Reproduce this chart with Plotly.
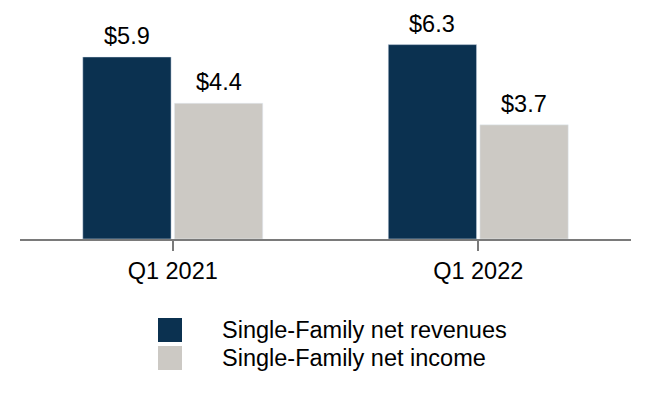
import plotly.graph_objects as go

categories = ["Q1 2021", "Q1 2022"]
series_names = ["Single-Family net revenues", "Single-Family net income"]
net_revenues = [5.9, 6.3]
net_income = [4.4, 3.7]
colors = ["#0b3150", "#ccc9c4"]

FONT = "Arial, Liberation Sans, sans-serif"
FS = 23.5

# the browser's default body margin offsets the figure by 8px
OFF = 8
W, H = 650 - OFF, 400 - OFF
left, right = 20 - OFF, 631 - OFF
top, bottom = 23 - OFF, 239 - OFF
plot_w = right - left
plot_h = bottom - top

def px_x(px):
    return (px - OFF - left) / plot_w

def px_y(py):
    return (bottom - (py - OFF)) / plot_h

fig = go.Figure()
for name, vals, col in zip(series_names, [net_revenues, net_income], colors):
    fig.add_trace(go.Bar(
        x=categories, y=vals, name=name, marker_color=col,
        showlegend=False,
    ))

annotations = []
for vals, shift in zip([net_revenues, net_income], [-46, 46]):
    for c, v in zip(categories, vals):
        annotations.append(dict(x=c, y=v, xref="x", yref="y", text=f"${v:.1f}",
                                showarrow=False, yanchor="bottom", yshift=6, xshift=shift,
                                font=dict(size=FS, color="#000000", family=FONT)))

# manual legend
shapes = []
for i, (name, col) in enumerate(zip(series_names, colors)):
    y0 = 318 + i * 28
    shapes.append(dict(type="rect", xref="paper", yref="paper",
                       x0=px_x(158), x1=px_x(182),
                       y0=px_y(y0 + 24), y1=px_y(y0), fillcolor=col, line_width=0))
    annotations.append(dict(xref="paper", yref="paper", x=px_x(220), y=px_y(y0 + 12),
                            text=name, showarrow=False, xanchor="left", yanchor="middle",
                            font=dict(size=FS, color="#000000", family=FONT)))

fig.update_layout(
    width=W, height=H,
    margin=dict(l=left, r=W - right, t=top, b=H - bottom, autoexpand=False),
    barmode="group", bargap=0.40, bargroupgap=0.036,
    plot_bgcolor="white", paper_bgcolor="white",
    font=dict(family=FONT, size=FS, color="#000000"),
    showlegend=False,
    shapes=shapes, annotations=annotations,
)
fig.update_xaxes(showline=True, linecolor="#7a7a7a", linewidth=2,
                 ticks="outside", ticklen=10, tickcolor="#7a7a7a", tickwidth=1.5,
                 tickfont=dict(size=FS, family=FONT, color="#000000"))
fig.update_yaxes(range=[0, 7], visible=False, showgrid=False, zeroline=False)

fig.write_html("out.html")
